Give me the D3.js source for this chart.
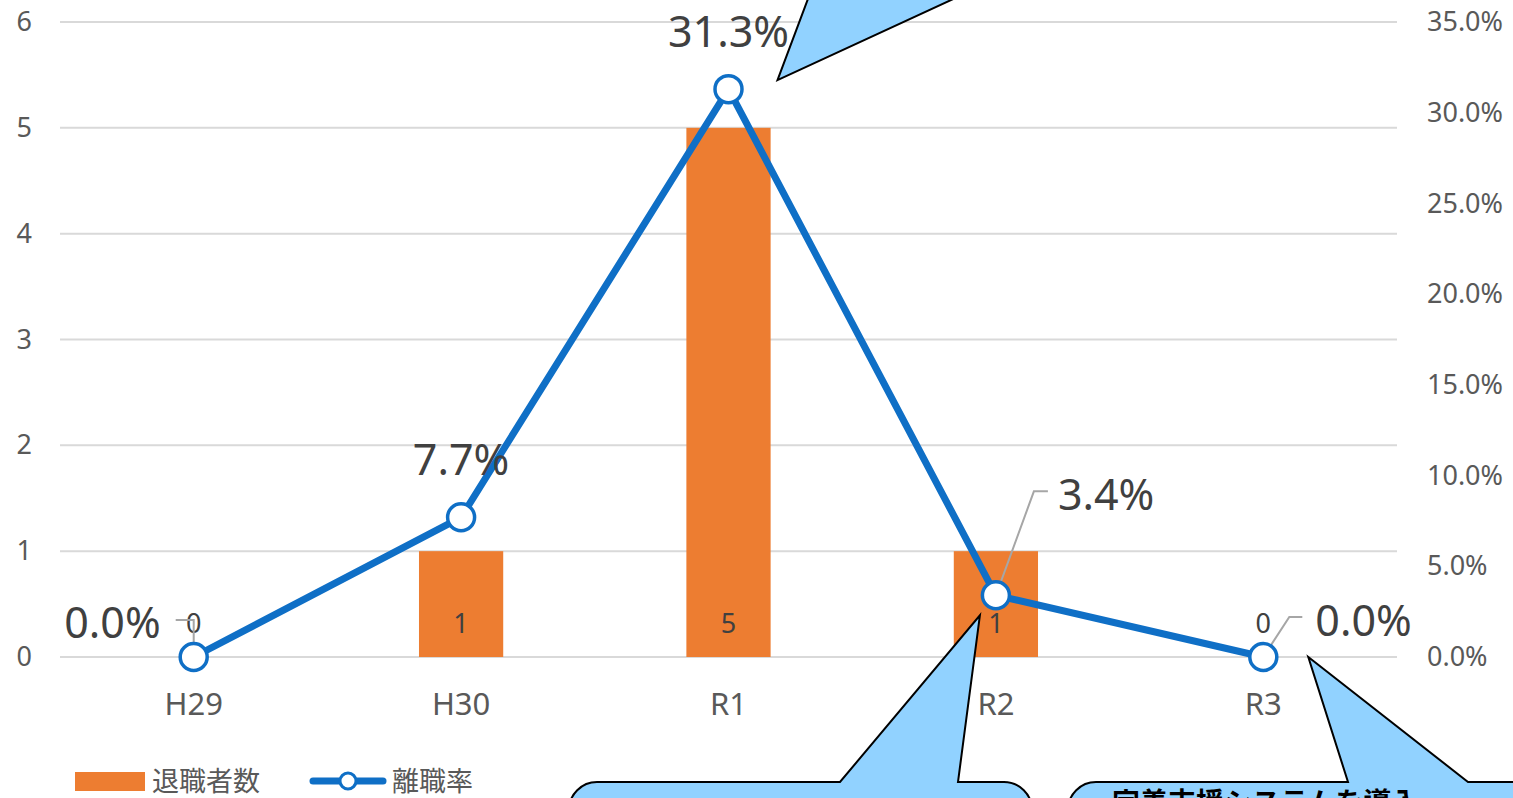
<!DOCTYPE html>
<html lang="ja">
<head>
<meta charset="utf-8">
<script src="https://cdn.jsdelivr.net/npm/d3@7"></script>
<style>
  html, body { margin: 0; padding: 0; background: #fff; overflow: hidden; }
  svg { display: block; }
  text { font-family: "Noto Sans", "Noto Sans CJK JP", sans-serif; }
</style>
</head>
<body>
<svg id="chart" width="1513" height="798"></svg>
<script>
// Fiscal years and the two series
const categories = ["H29", "H30", "R1", "R2", "R3"];
const retirees = [0, 1, 5, 1, 0];              // 退職者数 (left axis)
const turnoverRate = [0.0, 0.077, 0.313, 0.034, 0.0]; // 離職率 (right axis)
const leftTicks = [0, 1, 2, 3, 4, 5, 6];
const rightTicks = [0, 0.05, 0.10, 0.15, 0.20, 0.25, 0.30, 0.35];
const legendLabels = ["退職者数", "離職率"];
const calloutText = "定着支援システムを導入";

const plot = { left: 60, right: 1397, top: 22, bottom: 657 };
const ORANGE = "#ED7D31", BLUE = "#0F6FC6", GRID = "#D9D9D9";
const AXIS_TXT = "#595959", LABEL_TXT = "#404040", LEADER = "#A6A6A6";
const CALLOUT_FILL = "#91D2FF";

const svg = d3.select("#chart");

const x = d3.scaleBand().domain(categories).range([plot.left, plot.right]).paddingInner(0).paddingOuter(0);
const yL = d3.scaleLinear().domain([0, 6]).range([plot.bottom, plot.top]);
const yR = d3.scaleLinear().domain([0, 0.35]).range([plot.bottom, plot.top]);
const cx = c => x(c) + x.bandwidth() / 2;

// Gridlines
svg.append("g").selectAll("line").data(leftTicks).join("line")
  .attr("x1", plot.left).attr("x2", plot.right)
  .attr("y1", d => yL(d)).attr("y2", d => yL(d))
  .attr("stroke", GRID).attr("stroke-width", 2);

// Left axis
const leftAxis = svg.append("g").attr("transform", `translate(${plot.left},0)`)
  .call(d3.axisLeft(yL).tickValues(leftTicks).tickSize(0).tickPadding(28).tickFormat(d3.format("d")));
leftAxis.select(".domain").remove();
leftAxis.selectAll("text").attr("fill", AXIS_TXT).style("font-size", "27px");

// Right axis
const rightAxis = svg.append("g").attr("transform", `translate(${plot.right},0)`)
  .call(d3.axisRight(yR).tickValues(rightTicks).tickSize(0).tickPadding(30).tickFormat(d3.format(".1%")));
rightAxis.select(".domain").remove();
rightAxis.selectAll("text").attr("fill", AXIS_TXT).style("font-size", "27px");

// Category axis
const bottomAxis = svg.append("g").attr("transform", `translate(0,${plot.bottom})`)
  .call(d3.axisBottom(x).tickSize(0).tickPadding(36));
bottomAxis.select(".domain").remove();
bottomAxis.selectAll("text").attr("fill", AXIS_TXT).style("font-size", "31px");

// Bars
const barW = x.bandwidth() * 0.315;
svg.append("g").selectAll("rect").data(categories).join("rect")
  .attr("x", (c) => cx(c) - barW / 2)
  .attr("y", (c, i) => yL(retirees[i]))
  .attr("width", barW)
  .attr("height", (c, i) => yL(0) - yL(retirees[i]))
  .attr("fill", ORANGE);

// Bar value labels
svg.append("g").selectAll("text").data(categories).join("text")
  .attr("x", c => cx(c))
  .attr("y", plot.bottom - 24)
  .attr("text-anchor", "middle")
  .attr("fill", LABEL_TXT)
  .style("font-size", "27px")
  .text((c, i) => retirees[i]);

// Leader lines for the offset rate labels
const pts = categories.map((c, i) => [cx(c), yR(turnoverRate[i])]);
const leaders = [
  { i: 0, path: p => [[p[0], p[1]], [p[0], p[1] - 37], [p[0] - 18, p[1] - 37]] },
  { i: 3, path: p => [[p[0], p[1]], [p[0] + 38, p[1] - 104], [p[0] + 52, p[1] - 104]] },
  { i: 4, path: p => [[p[0], p[1]], [p[0] + 26, p[1] - 40], [p[0] + 39, p[1] - 40]] }
];
svg.append("g").selectAll("path").data(leaders).join("path")
  .attr("d", d => d3.line()(d.path(pts[d.i])))
  .attr("fill", "none").attr("stroke", LEADER).attr("stroke-width", 2);

// Rate line
svg.append("path")
  .attr("d", d3.line()(pts))
  .attr("fill", "none").attr("stroke", BLUE).attr("stroke-width", 7)
  .attr("stroke-linejoin", "round");

svg.append("g").selectAll("circle").data(pts).join("circle")
  .attr("cx", d => d[0]).attr("cy", d => d[1]).attr("r", 13.5)
  .attr("fill", "#fff").attr("stroke", BLUE).attr("stroke-width", 3.5);

// Rate labels
const rateLabelPos = [
  { dx: -33, dy: -19, anchor: "end" },
  { dx: 0, dy: -42, anchor: "middle" },
  { dx: 0, dy: -42, anchor: "middle" },
  { dx: 62, dy: -85, anchor: "start" },
  { dx: 52, dy: -21, anchor: "start" }
];
svg.append("g").selectAll("text").data(pts).join("text")
  .attr("x", (d, i) => d[0] + rateLabelPos[i].dx)
  .attr("y", (d, i) => d[1] + rateLabelPos[i].dy)
  .attr("text-anchor", (d, i) => rateLabelPos[i].anchor)
  .attr("fill", LABEL_TXT)
  .style("font-size", "43px")
  .text((d, i) => d3.format(".1%")(turnoverRate[i]));

// Legend
const lg = svg.append("g");
lg.append("rect").attr("x", 75).attr("y", 772).attr("width", 70).attr("height", 19).attr("fill", ORANGE);
lg.append("text").attr("x", 152).attr("y", 791).attr("fill", AXIS_TXT).style("font-size", "27px").text(legendLabels[0]);
lg.append("line").attr("x1", 313).attr("x2", 383).attr("y1", 781).attr("y2", 781)
  .attr("stroke", BLUE).attr("stroke-width", 7).attr("stroke-linecap", "round");
lg.append("circle").attr("cx", 348).attr("cy", 781).attr("r", 8)
  .attr("fill", "#fff").attr("stroke", BLUE).attr("stroke-width", 3);
lg.append("text").attr("x", 392).attr("y", 791).attr("fill", AXIS_TXT).style("font-size", "27px").text(legendLabels[1]);

// Speech-bubble callouts
function bubble(g, box, tip, baseL, baseR, r) {
  const { x0, y0, x1, y1 } = box;
  const p = d3.path();
  p.moveTo(x0 + r, y0);
  p.lineTo(baseL, y0);
  p.lineTo(tip[0], tip[1]);
  p.lineTo(baseR, y0);
  p.lineTo(x1 - r, y0);
  p.arcTo(x1, y0, x1, y0 + r, r);
  p.lineTo(x1, y1 - r);
  p.arcTo(x1, y1, x1 - r, y1, r);
  p.lineTo(x0 + r, y1);
  p.arcTo(x0, y1, x0, y1 - r, r);
  p.lineTo(x0, y0 + r);
  p.arcTo(x0, y0, x0 + r, y0, r);
  p.closePath();
  g.append("path").attr("d", p.toString())
    .attr("fill", CALLOUT_FILL).attr("stroke", "#000").attr("stroke-width", 2)
    .attr("stroke-linejoin", "miter");
}
const callouts = svg.append("g");

// Top bubble (body above the frame), pointing at the R1 rate
(function () {
  const tip = [pts[2][0] + 49, pts[2][1] - 9];
  const p = d3.path();
  p.moveTo(tip[0], tip[1]);
  p.lineTo(tip[0] + 45, tip[1] - 120);
  p.lineTo(tip[0] + 260, tip[1] - 120);
  p.closePath();
  callouts.append("path").attr("d", p.toString())
    .attr("fill", CALLOUT_FILL).attr("stroke", "#000").attr("stroke-width", 2);
})();

// Bottom-middle bubble, pointing at the R2 point
bubble(callouts, { x0: 569, y0: 782, x1: 1032, y1: 900 },
  [pts[3][0] - 16, pts[3][1] + 20], 840, 958, 28);

// Bottom-right bubble, pointing at the R3 point
bubble(callouts, { x0: 1068, y0: 782, x1: 1620, y1: 900 },
  [pts[4][0] + 45, pts[4][1]], 1348, 1468, 28);
callouts.append("text")
  .attr("x", 1112).attr("y", 813)
  .attr("fill", "#000").style("font-weight", "bold").style("font-size", "28px")
  .style("font-family", "'Noto Sans CJK JP', sans-serif")
  .text(calloutText);
</script>
</body>
</html>
